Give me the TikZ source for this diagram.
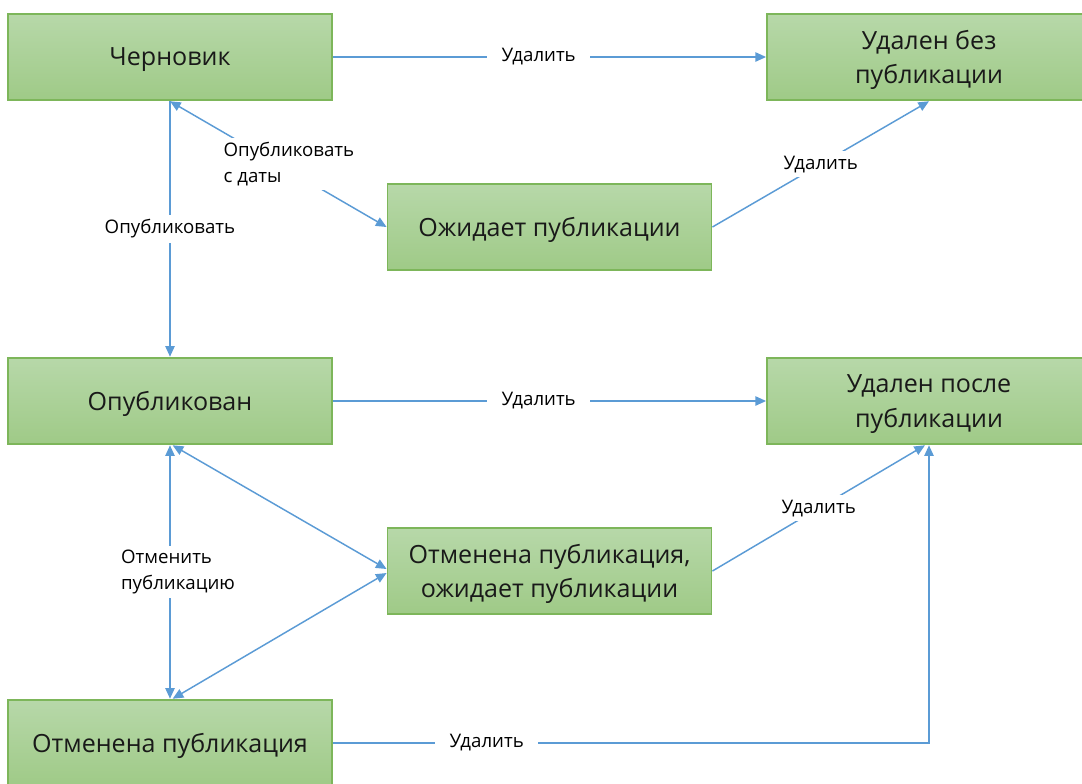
\documentclass[tikz,border=0pt]{standalone}
\usepackage{fontspec}
\setmainfont{Open Sans}
\usetikzlibrary{arrows.meta}
\definecolor{boxtop}{HTML}{B7D8A9}
\definecolor{boxbot}{HTML}{9FCA87}
\definecolor{boxline}{HTML}{7DB65A}
\definecolor{flow}{HTML}{5B9BD5}

\begin{document}
\begin{tikzpicture}[x=0.75pt, y=-0.75pt,
    state/.style={draw=boxline, line width=1.4pt, top color=boxtop, bottom color=boxbot,
      minimum width=243pt, minimum height=65pt, inner sep=0pt, align=center,
      text=black!90, font=\fontsize{18.8}{26}\selectfont, text depth=0pt},
    flowline/.style={draw=flow, line width=1.1pt, -{Triangle[length=8pt,width=7pt]}},
    both/.style={flowline, {Triangle[length=8pt,width=7pt]}-{Triangle[length=8pt,width=7pt]}},
    lbl/.style={fill=white, inner xsep=11pt, align=left, text=black,
      font=\fontsize{14}{19}\selectfont}]
  \useasboundingbox (0,0) rectangle (1082,783);
  \clip (0,0) rectangle (1082,783);
  % states
  \node[state] (draft)  at (170,57)    {Черновик};
  \node[state] (gone1)  at (929,57)    {Удален без\\публикации};
  \node[state] (wait)   at (549.5,227) {Ожидает публикации};
  \node[state] (pub)    at (170,401)   {Опубликован};
  \node[state] (gone2)  at (929,401)   {Удален после\\публикации};
  \node[state] (cwait)  at (549.5,571) {Отменена публикация,\\ожидает публикации};
  \node[state] (cancel) at (170,743)   {Отменена публикация};
  % transitions
  \draw[flowline] (draft) -- node[lbl, pos=0.475] {Удалить} (gone1);
  \draw[flowline] (wait.east) -- node[lbl] {Удалить} (gone1.south);
  \draw[flowline] (draft) -- node[lbl] {Опубликовать} (pub);
  \draw[both] (draft.south) -- node[lbl, xshift=8pt] {Опубликовать\\с даты} (wait.west);
  \draw[flowline] (pub) -- node[lbl, pos=0.475] {Удалить} (gone2);
  \draw[both] (pub) -- node[lbl, xshift=6pt] {Отменить\\публикацию} (cancel);
  \draw[both] ([xshift=2pt]pub.south) -- ([yshift=1.5pt]cwait.west);
  \draw[both] ([xshift=2pt]cancel.north) -- ([yshift=-1.5pt]cwait.west);
  \draw[flowline] (cwait.east) -- node[lbl] {Удалить} ([xshift=-3pt]gone2.south);
  \draw[flowline] (cancel.east) -| node[lbl, pos=0.129] {Удалить} (gone2.south);
\end{tikzpicture}
\end{document}
